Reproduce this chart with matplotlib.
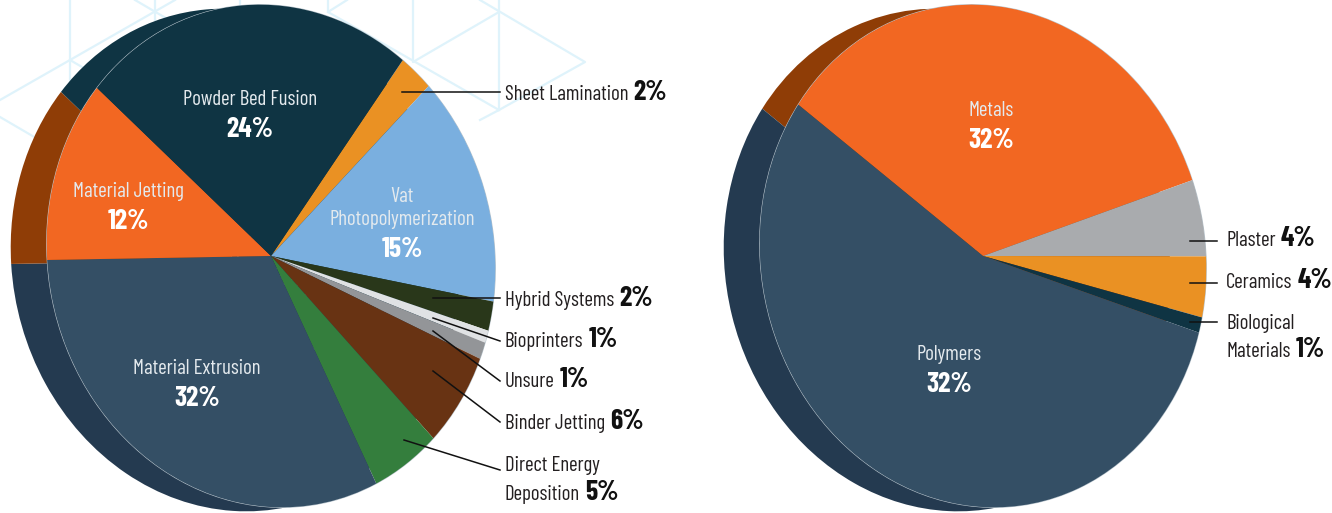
import matplotlib
matplotlib.use('Agg')
import matplotlib.pyplot as plt
from matplotlib.patches import Ellipse
from matplotlib.transforms import Affine2D

W, H = 1332, 513
plt.rcParams['font.family'] = ['Barlow Condensed', 'Open Sans Condensed', 'DejaVu Sans']

# left pie, clockwise from Sheet Lamination; slice sizes
process_names = ['Sheet Lamination', 'Vat Photopolymerization', 'Hybrid Systems', 'Bioprinters', 'Unsure',
                 'Binder Jetting', 'Direct Energy Deposition', 'Material Extrusion', 'Material Jetting',
                 'Powder Bed Fusion']
process_values = [2.4, 14.7, 1.9, 0.8, 1.1, 6.2, 5.1, 31.7, 11.9, 24.1]
process_colors = ['#ea9123', '#7aafdf', '#29371a', '#e0e2e4', '#939598',
                  '#683313', '#347e3d', '#344f65', '#f26722', '#0f3443']
process_shadow = ['#0f3443', '#0f3443', '#0f3443', '#243a50', '#243a50',
                  '#243a50', '#243a50', '#243a50', '#8f3d06', '#0f3443']

# right pie, clockwise from Metals; the printed labels differ from the drawn slices
material_names = ['Metals', 'Plaster', 'Ceramics', 'Biological Materials', 'Polymers']
material_values = [34.8, 4.9, 3.9, 1.0, 55.3]
material_colors = ['#f26722', '#a9abae', '#ea9123', '#0f3443', '#344f65']
material_shadow = ['#8f3d06', '#8f3d06', '#8f3d06', '#243a50', '#243a50']

# faint hexagon pattern behind the pies (pixels)
hex_lines = [[(70, 0), (70, 85)], [(0, 100), (175, 0)], [(0, 117), (60, 152)], [(135, 0), (200, 38)],
             [(155, 0), (155, 20)], [(70, 60), (130, 95)], [(240, 0), (240, 6)],
             [(328, 0), (328, 12), (347, 0)], [(328, 12), (499, 110), (480, 120)],
             [(413, 0), (413, 62), (499, 12)], [(499, 0), (499, 110)], [(480, 0), (585, 62), (499, 110)]]

# the pies are slightly tilted ellipses
tilt = Affine2D.from_values(1.001, -0.025, -0.025, 1.001, 0, 0)


def pie_layer(cx, cy, rx, ry, values, colors, start, outline=False):
    ax = fig.add_axes([(cx - rx) / W, 1 - (cy + ry) / H, 2 * rx / W, 2 * ry / H])
    wedges, _ = ax.pie(values, colors=colors, startangle=start, counterclock=False,
                       wedgeprops={'linewidth': 0})
    ax.set_aspect('auto')
    ax.set_xlim(-1, 1)
    ax.set_ylim(-1, 1)
    ax.patch.set_alpha(0)
    for w in wedges:
        w.set_transform(tilt + ax.transData)
        w.set_clip_on(False)
    if outline:
        ring = Ellipse((0, 0), 2, 2, fill=False, ec='#b8c4cc', lw=0.8, zorder=0.5, clip_on=False)
        ring.set_transform(tilt + ax.transData)
        ax.add_patch(ring)


def draw_pie(cx, cy, rx, ry, values, colors, shadow, start):
    # shadow first, shifted left and slightly down
    pie_layer(cx - 36, cy + 4, rx, ry, values, shadow, start)
    pie_layer(cx, cy, rx, ry, values, colors, start, outline=True)


def label(x, y, name, pct):
    # name + bold percent on one line
    t = over.text(x, y, name, color='#231f20', fontsize=NAME_SIZE, va='baseline', ha='left')
    bb = t.get_window_extent(fig.canvas.get_renderer())
    over.text(x + bb.width + 5, y, pct, color='#111111', fontsize=PCT_SIZE, fontweight='bold', va='baseline', ha='left')


def center_label(x, y, lines, pct):
    for i, line in enumerate(lines):
        over.text(x, y + i * 23, line, color='#e4eaee', fontsize=NAME_SIZE, ha='center', va='baseline')
    over.text(x, y + (len(lines) - 1) * 23 + 32, pct, color='white', fontsize=PCT_SIZE, fontweight='bold', ha='center', va='baseline')


NAME_SIZE = 15
PCT_SIZE = 20

fig = plt.figure(figsize=(W / 100, H / 100), dpi=100)

bg = fig.add_axes([0, 0, 1, 1])
bg.set_xlim(0, W)
bg.set_ylim(H, 0)
bg.axis('off')
for pts in hex_lines:
    bg.plot([p[0] for p in pts], [p[1] for p in pts], color='#dff3fb', lw=1.6)

draw_pie(271, 256, 224, 251, process_values, process_colors, process_shadow, 52.6)
draw_pie(983, 256, 223, 251, material_values, material_colors, material_shadow, 144.4)

over = fig.add_axes([0, 0, 1, 1])
over.set_xlim(0, W)
over.set_ylim(H, 0)
over.axis('off')

center_label(250, 105, ['Powder Bed Fusion'], '24%')
center_label(128, 197, ['Material Jetting'], '12%')
center_label(402, 202, ['Vat', 'Photopolymerization'], '15%')
center_label(197, 374, ['Material Extrusion'], '32%')
center_label(991, 116, ['Metals'], '32%')
center_label(949, 360, ['Polymers'], '32%')

leaders = [[(402, 92), (500, 92)], [(433, 298), (500, 298)], [(433, 318), (500, 341)], [(433, 331), (500, 381)],
           [(433, 371), (500, 422)], [(404, 440), (500, 470)],
           [(1190, 241), (1217, 241)], [(1190, 283), (1217, 283)], [(1190, 322), (1217, 322)]]
for pts in leaders:
    over.plot([p[0] for p in pts], [p[1] for p in pts], color='#111111', lw=1.1)

label(505, 100, 'Sheet Lamination', '2%')
label(505, 306, 'Hybrid Systems', '2%')
label(505, 347, 'Bioprinters', '1%')
label(505, 387, 'Unsure', '1%')
label(505, 429, 'Binder Jetting', '6%')
over.text(505, 471, 'Direct Energy', color='#231f20', fontsize=NAME_SIZE, va='baseline')
label(505, 500, 'Deposition', '5%')
label(1226, 246, 'Plaster', '4%')
label(1226, 288, 'Ceramics', '4%')
over.text(1226, 329, 'Biological', color='#231f20', fontsize=NAME_SIZE, va='baseline')
label(1226, 357, 'Materials', '1%')

fig.savefig('out.png', dpi=100)
